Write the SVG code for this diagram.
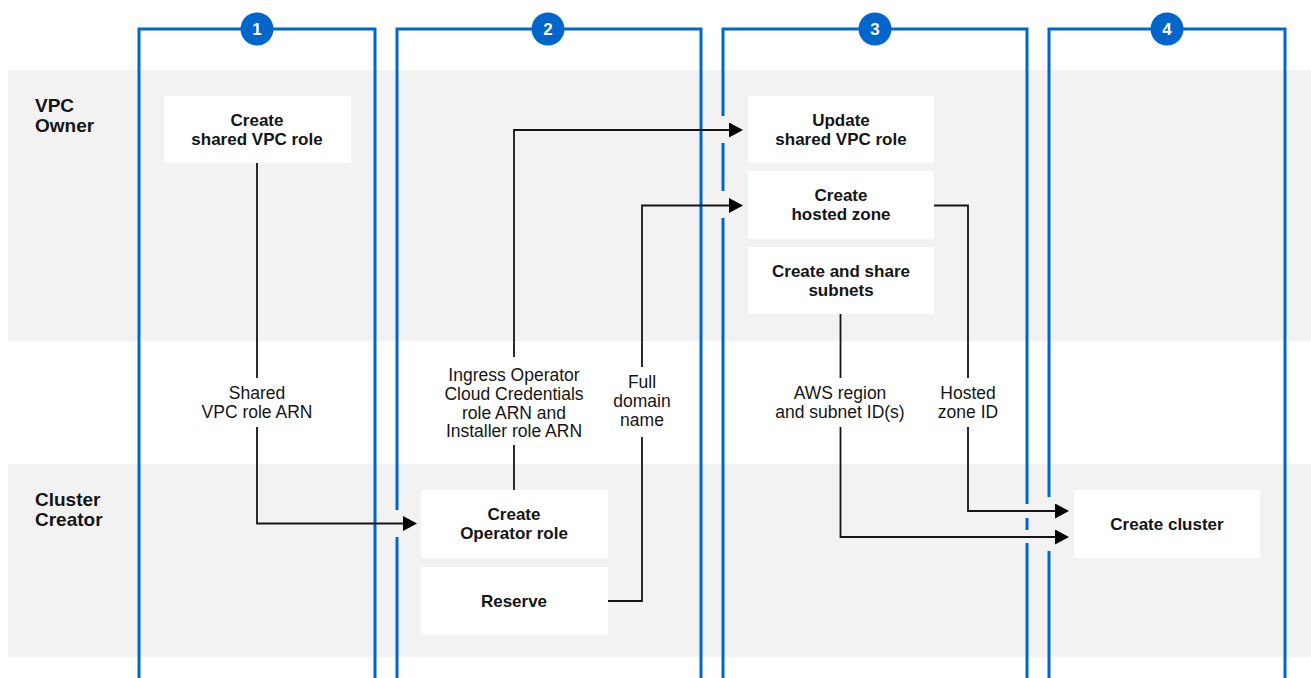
<svg xmlns="http://www.w3.org/2000/svg" width="1311" height="678" viewBox="0 0 1311 678">
<style>
.band{fill:#f2f2f2}
.col{stroke:#0066cc;stroke-width:3;fill:none}
.badge{fill:#0066cc}
.badge-t{fill:#fff;font-family:"Liberation Sans",Arial,sans-serif;font-weight:bold;font-size:17px;text-anchor:middle}
.lane{fill:#151515;font-family:"Liberation Sans",Arial,sans-serif;font-weight:bold;font-size:19px}
.box{fill:#fff}
.bt{fill:#151515;font-family:"Liberation Sans",Arial,sans-serif;font-weight:bold;font-size:17px;text-anchor:middle}
.lt{fill:#151515;font-family:"Liberation Sans",Arial,sans-serif;font-size:17.5px;text-anchor:middle}
.con{stroke:#151515;stroke-width:1.8;fill:none}
</style>
<defs>
<marker id="arr" markerUnits="userSpaceOnUse" markerWidth="16" markerHeight="16" refX="12" refY="7.5" orient="auto">
<path d="M0,0 L14,7.5 L0,15 z" fill="#000"/>
</marker>
</defs>
<rect width="1311" height="678" fill="#fff"/>
<g id="lanes">
<rect class="band" x="8" y="70" width="1303" height="271"/>
<rect class="band" x="8" y="464" width="1303" height="193"/>
<text class="lane" x="35" y="112">VPC</text>
<text class="lane" x="35" y="132">Owner</text>
<text class="lane" x="35" y="506">Cluster</text>
<text class="lane" x="35" y="526">Creator</text>
</g>
<g id="columns">
<path class="col" d="M139,678 V29 H375 V531 M375,517 V678"/>
<path class="col" d="M397,678 V537 M397,510 V29 H701 V213 M701,198 V137 M701,123 V678"/>
<path class="col" d="M723,678 V218 M723,191 V143 M723,116 V29 H1027 V504 M1027,518 V530 M1027,543 V678"/>
<path class="col" d="M1049,678 V551 M1049,497 V29 H1285 V678"/>
<circle class="badge" cx="257" cy="29" r="16.5"/>
<text class="badge-t" x="257" y="35">1</text>
<circle class="badge" cx="548" cy="29" r="16.5"/>
<text class="badge-t" x="548" y="35">2</text>
<circle class="badge" cx="875" cy="29" r="16.5"/>
<text class="badge-t" x="875" y="35">3</text>
<circle class="badge" cx="1167" cy="29" r="16.5"/>
<text class="badge-t" x="1167" y="35">4</text>
</g>
<g id="connectors">
<path class="con" d="M257,163 V378"/>
<path class="con" d="M257,427 V523.5 H415" marker-end="url(#arr)"/>
<text class="lt" x="257" y="399">Shared</text>
<text class="lt" x="257" y="418">VPC role ARN</text>
<path class="con" d="M514,490 V445"/>
<path class="con" d="M514,357 V130 H741" marker-end="url(#arr)"/>
<text class="lt" x="514" y="381">Ingress Operator</text>
<text class="lt" x="514" y="400">Cloud Credentials</text>
<text class="lt" x="514" y="418.5">role ARN and</text>
<text class="lt" x="514" y="437">Installer role ARN</text>
<path class="con" d="M608,601 H642 V437"/>
<path class="con" d="M642,367 V205.5 H741" marker-end="url(#arr)"/>
<text class="lt" x="642" y="388">Full</text>
<text class="lt" x="642" y="407">domain</text>
<text class="lt" x="642" y="426">name</text>
<path class="con" d="M934,205.5 H968 V378"/>
<path class="con" d="M968,427 V511 H1067" marker-end="url(#arr)"/>
<text class="lt" x="968" y="399">Hosted</text>
<text class="lt" x="968" y="418">zone ID</text>
<path class="con" d="M840.5,314 V378"/>
<path class="con" d="M840.5,427 V537 H1067" marker-end="url(#arr)"/>
<text class="lt" x="840" y="399">AWS region</text>
<text class="lt" x="840" y="418">and subnet ID(s)</text>
</g>
<g id="n-create-shared-vpc-role">
<rect class="box" x="164" y="96" width="187" height="67"/>
<text class="bt" x="257" y="125.5">Create</text>
<text class="bt" x="257" y="144.5">shared VPC role</text>
</g>
<g id="n-create-operator-role">
<rect class="box" x="421" y="490" width="187" height="68"/>
<text class="bt" x="514" y="519.5">Create</text>
<text class="bt" x="514" y="538.5">Operator role</text>
</g>
<g id="n-reserve">
<rect class="box" x="421" y="567" width="187" height="68"/>
<text class="bt" x="514" y="607">Reserve</text>
</g>
<g id="n-update-shared-vpc-role">
<rect class="box" x="748" y="96" width="186" height="67"/>
<text class="bt" x="841" y="125.5">Update</text>
<text class="bt" x="841" y="144.5">shared VPC role</text>
</g>
<g id="n-create-hosted-zone">
<rect class="box" x="748" y="171" width="186" height="68"/>
<text class="bt" x="841" y="200.5">Create</text>
<text class="bt" x="841" y="219.5">hosted zone</text>
</g>
<g id="n-create-share-subnets">
<rect class="box" x="748" y="247" width="186" height="67"/>
<text class="bt" x="841" y="276.5">Create and share</text>
<text class="bt" x="841" y="295.5">subnets</text>
</g>
<g id="n-create-cluster">
<rect class="box" x="1074" y="490" width="186" height="68"/>
<text class="bt" x="1167" y="530">Create cluster</text>
</g>
</svg>
